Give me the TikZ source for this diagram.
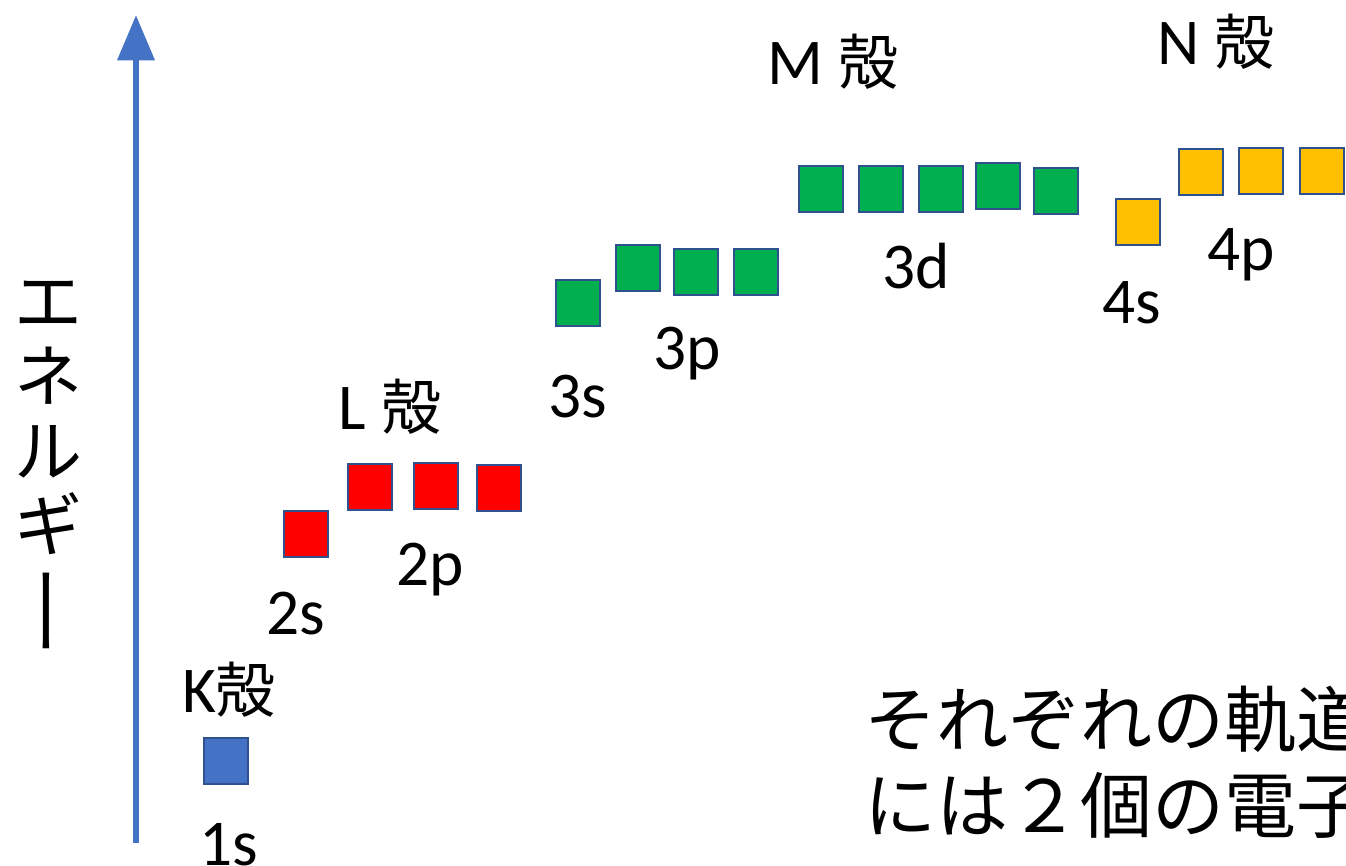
\documentclass[tikz,border=0pt]{standalone}
\usepackage{fontspec}
\usepackage{graphicx}
\setmainfont{Carlito}
\newfontfamily\cjk{Noto Sans CJK JP}
\usetikzlibrary{arrows.meta}
\definecolor{axisblue}{HTML}{4472C4}
\definecolor{edgeblue}{HTML}{2F528F}
\definecolor{kfill}{HTML}{4472C4}
\definecolor{lfill}{HTML}{FF0000}
\definecolor{mfill}{HTML}{00B050}
\definecolor{nfill}{HTML}{FFC000}
\tikzset{
  orb/.style={draw=edgeblue, line width=1.5pt, minimum width=33pt, minimum height=35pt, inner sep=0pt},
  lbl/.style={inner sep=0pt, font=\fontsize{49}{58}\selectfont},
  shell/.style={inner sep=0pt, font=\fontsize{49}{58}\selectfont},
}
\newcommand{\kaku}{{\cjk\fontsize{45}{54}\selectfont 殻}}
\begin{document}
\begin{tikzpicture}[x=0.75pt,y=-0.75pt]
\useasboundingbox (0,0) rectangle (1346,866);
\clip (0,0) rectangle (1346,866);
% energy axis
\coordinate (axbot) at (136,843);
\coordinate (axtop) at (136,15);
\draw[axisblue, line width=5.2pt, -{Triangle[width=27pt,length=34pt]}] (axbot) -- (axtop);
\node[inner sep=0pt, align=center, font=\cjk\fontsize{51}{56}\selectfont] (energy) at (48,470)
  {エ\\ネ\\ル\\ギ\\\hspace*{14pt}\rotatebox[origin=c]{90}{\scalebox{1.4}[1]{ー}}};
% K shell
\node[orb, fill=kfill] (s1) at (226,761) {};
\node[lbl] (l1s) at (229,845) {1s};
\node[shell] (K) at (229,690) {K\kaku};
% L shell
\node[orb, fill=lfill] (s2) at (306,534) {};
\node[orb, fill=lfill] (p2a) at (370,487) {};
\node[orb, fill=lfill] (p2b) at (436,486) {};
\node[orb, fill=lfill] (p2c) at (499,488) {};
\node[lbl] (l2s) at (296,614) {2s};
\node[lbl] (l2p) at (430,570) {2p};
\node[shell] (L) at (390,407) {L \kaku};
% M shell
\node[orb, fill=mfill] (s3) at (578,303) {};
\node[orb, fill=mfill] (p3a) at (638,268) {};
\node[orb, fill=mfill] (p3b) at (696,272) {};
\node[orb, fill=mfill] (p3c) at (756,272) {};
\node[orb, fill=mfill] (d3a) at (821,189) {};
\node[orb, fill=mfill] (d3b) at (881,189) {};
\node[orb, fill=mfill] (d3c) at (941,189) {};
\node[orb, fill=mfill] (d3d) at (998,186) {};
\node[orb, fill=mfill] (d3e) at (1056,191) {};
\node[lbl] (l3s) at (578,397) {3s};
\node[lbl] (l3p) at (687,354) {3p};
\node[lbl] (l3d) at (916,266) {3d};
\node[shell] (M) at (833,62) {M \kaku};
% N shell
\node[orb, fill=nfill] (s4) at (1138,222) {};
\node[orb, fill=nfill] (p4a) at (1201,172) {};
\node[orb, fill=nfill] (p4b) at (1261,171) {};
\node[orb, fill=nfill] (p4c) at (1322,171) {};
\node[lbl] (l4s) at (1132,303) {4s};
\node[lbl] (l4p) at (1241,255) {4p};
\node[shell] (N) at (1216,42) {N \kaku};
% note
\node[inner sep=0pt, anchor=base west, align=left, font=\cjk\fontsize{54}{64}\selectfont] (note) at (864,832)
  {それぞれの軌道\\には２個の電子};
\end{tikzpicture}
\end{document}
